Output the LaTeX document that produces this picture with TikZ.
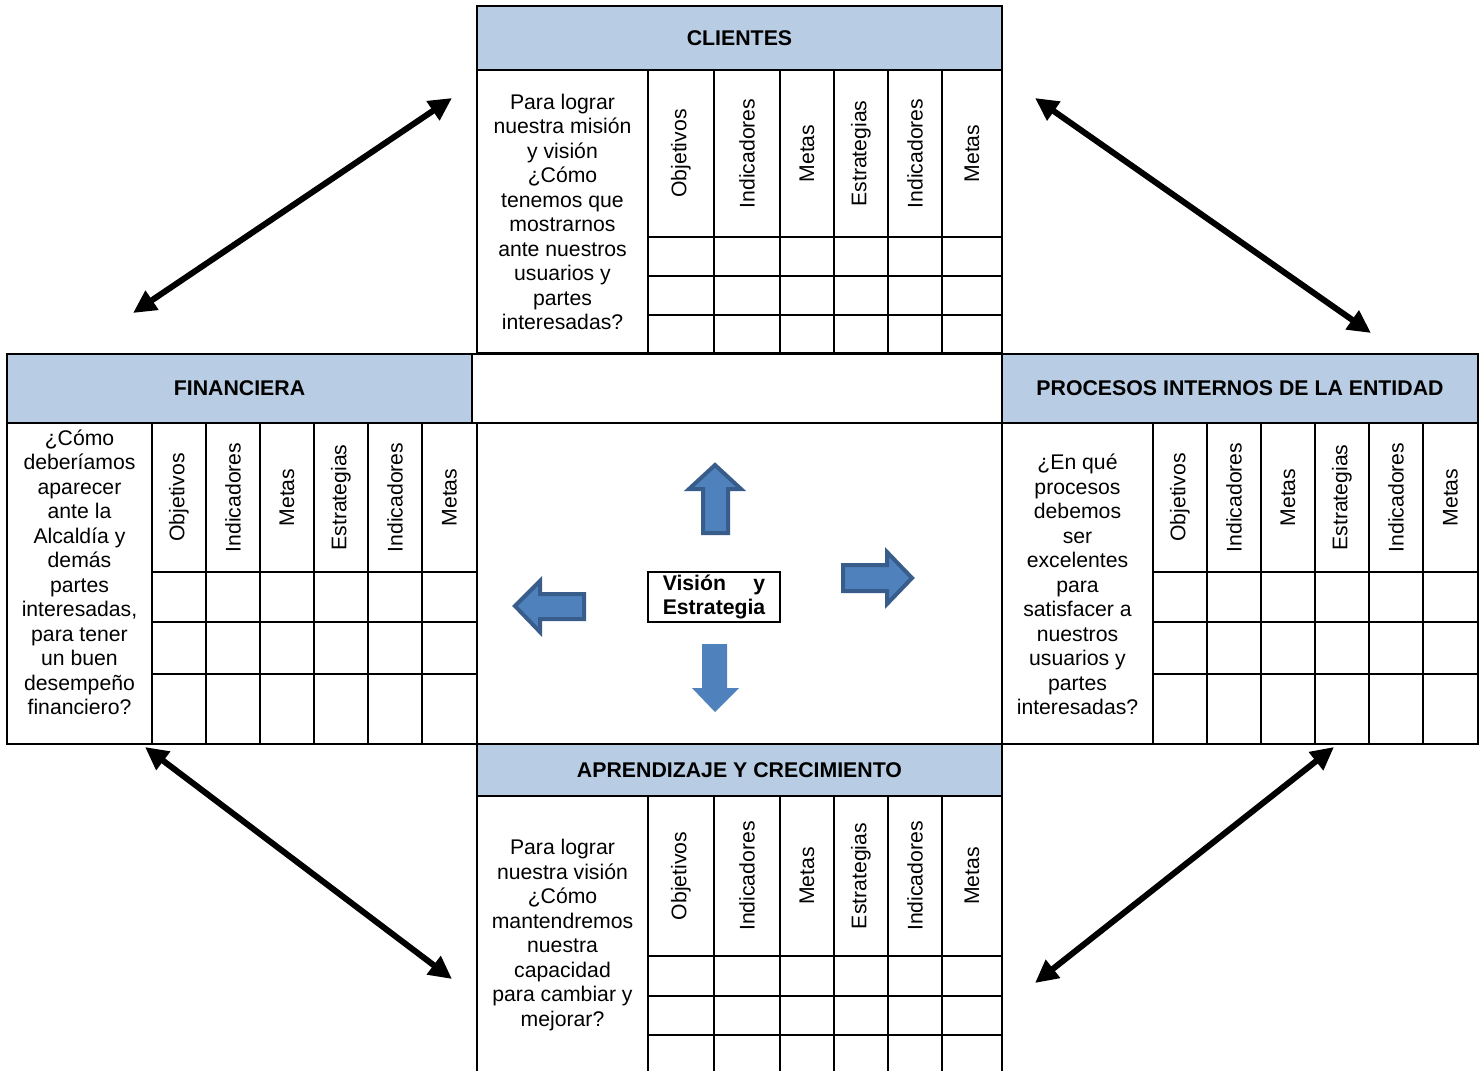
\documentclass[tikz,border=0pt]{standalone}
\usepackage{fontspec}
\usepackage{calc}
\setmainfont{Liberation Sans}
\usetikzlibrary{arrows.meta}
\definecolor{hdrblue}{HTML}{B8CCE4}
\definecolor{arrfill}{HTML}{4F81BD}
\definecolor{arrline}{HTML}{385D8A}
\begin{document}
\begin{tikzpicture}[x=1pt,y=-1pt,
  tbl/.style={line width=2.2pt,draw=black},
  hdr/.style={fill=hdrblue},
  hdrtext/.style={font=\fontsize{21.3}{24.5}\selectfont\bfseries,inner sep=0pt},
  qtext/.style={font=\fontsize{21.2}{24.5}\selectfont,align=center,inner sep=0pt},
  rotlabel/.style={font=\fontsize{21.2}{24.5}\selectfont,rotate=90,inner sep=0pt},
  vbox/.style={draw=black,line width=2pt,fill=white,font=\fontsize{21.2}{24.5}\selectfont\bfseries,align=left,inner xsep=15pt,inner ysep=2.5pt,minimum height=50pt},
  blockarrow/.style={fill=arrfill,draw=arrline,line width=4pt,line join=miter},
  dblarrow/.style={line width=6pt,{Triangle[length=23pt,width=22pt]}-{Triangle[length=23pt,width=22pt]}}
]
\useasboundingbox (0,0) rectangle (1484,1071);
\fill[white] (0,0) rectangle (1484,1071);

% ---------------- CLIENTES ----------------
\fill[hdr] (477,6) rectangle (1002,70);
\draw[tbl] (477,6) rectangle (1002,353);
\draw[tbl] (477,70) -- (1002,70);
\foreach \x in {648,714,780,834,888,942} \draw[tbl] (\x,70) -- (\x,353);
\foreach \y in {237,276,315} \draw[tbl] (648,\y) -- (1002,\y);
\node[hdrtext] (Chead) at (739.5,38) {CLIENTES};
\node[qtext] (Cq) at (562.5,212) {Para lograr\\nuestra misión\\y visión\\¿Cómo\\tenemos que\\mostrarnos\\ante nuestros\\usuarios y\\partes\\interesadas?};
\foreach \xa/\xb/\t [count=\i] in {648/714/Objetivos,714/780/Indicadores,780/834/Metas,834/888/Estrategias,888/942/Indicadores,942/1002/Metas}
  \node[rotlabel] (C\i) at ({(\xa+\xb)/2},153.5) {\t};

% ---------------- middle band ----------------
\fill[hdr] (7,354) rectangle (472,423);
\fill[hdr] (1002,354) rectangle (1478,423);
\draw[tbl] (7,354) rectangle (472,423);
\draw[tbl] (472,354) rectangle (1002,423);
\draw[tbl] (1002,354) rectangle (1478,423);
\node[hdrtext] (Fhead) at (239.5,388.5) {FINANCIERA};
\node[hdrtext] (Phead) at (1240,388.5) {PROCESOS INTERNOS DE LA ENTIDAD};

% ---------------- FINANCIERA body ----------------
\draw[tbl] (7,423) rectangle (477,744);
\foreach \x in {152,206,260,314,368,422} \draw[tbl] (\x,423) -- (\x,744);
\foreach \y in {572,622,674} \draw[tbl] (152,\y) -- (477,\y);
\node[qtext] (Fq) at (79.5,572.5) {¿Cómo\\deberíamos\\aparecer\\ante la\\Alcaldía y\\demás\\partes\\interesadas,\\para tener\\un buen\\desempeño\\financiero?};
\foreach \xa/\xb/\t [count=\i] in {152/206/Objetivos,206/260/Indicadores,260/314/Metas,314/368/Estrategias,368/422/Indicadores,422/477/Metas}
  \node[rotlabel] (F\i) at ({(\xa+\xb)/2},497.5) {\t};

% ---------------- PROCESOS body ----------------
\draw[tbl] (1002,423) rectangle (1478,744);
\foreach \x in {1153,1207,1261,1315,1369,1423} \draw[tbl] (\x,423) -- (\x,744);
\foreach \y in {572,622,674} \draw[tbl] (1153,\y) -- (1478,\y);
\node[qtext] (Pq) at (1077.5,584.5) {¿En qué\\procesos\\debemos\\ser\\excelentes\\para\\satisfacer a\\nuestros\\usuarios y\\partes\\interesadas?};
\foreach \xa/\xb/\t [count=\i] in {1153/1207/Objetivos,1207/1261/Indicadores,1261/1315/Metas,1315/1369/Estrategias,1369/1423/Indicadores,1423/1478/Metas}
  \node[rotlabel] (P\i) at ({(\xa+\xb)/2},497.5) {\t};

% ---------------- center ----------------
\draw[tbl] (477,423) rectangle (1002,744);
\node[vbox] (vision) at (714,597) {\makebox[\widthof{Estrategia}][s]{Visión y}\\Estrategia};
% up arrow
\draw[blockarrow] (715,465) -- (741,489) -- (728,489) -- (728,533) -- (703,533) -- (703,489) -- (689,489) -- cycle;
% right arrow
\draw[blockarrow] (912,578) -- (887,604) -- (887,591) -- (843,591) -- (843,565) -- (887,565) -- (887,552) -- cycle;
% left arrow
\draw[blockarrow] (515,606) -- (540,581) -- (540,594) -- (584,594) -- (584,619) -- (540,619) -- (540,632) -- cycle;
% down arrow
\fill[arrfill] (702,644) -- (727,644) -- (727,688) -- (739,688) -- (715,712) -- (692,688) -- (702,688) -- cycle;

% ---------------- APRENDIZAJE ----------------
\fill[hdr] (477,744) rectangle (1002,796);
\draw[tbl] (477,1072) -- (477,744) -- (1002,744) -- (1002,1072);
\draw[tbl] (477,796) -- (1002,796);
\foreach \x in {648,714,780,834,888,942} \draw[tbl] (\x,796) -- (\x,1072);
\foreach \y in {956,996,1035} \draw[tbl] (648,\y) -- (1002,\y);
\node[hdrtext] (Ahead) at (739.5,770) {APRENDIZAJE Y CRECIMIENTO};
\node[qtext] (Aq) at (562.5,935) {Para lograr\\nuestra visión\\¿Cómo\\mantendremos\\nuestra\\capacidad\\para cambiar y\\mejorar?};
\foreach \xa/\xb/\t [count=\i] in {648/714/Objetivos,714/780/Indicadores,780/834/Metas,834/888/Estrategias,888/942/Indicadores,942/1002/Metas}
  \node[rotlabel] (A\i) at ({(\xa+\xb)/2},876) {\t};

% ---------------- diagonal double arrows ----------------
\coordinate (tlA) at (133,313);
\coordinate (tlB) at (452,98);
\coordinate (trA) at (1035,98);
\coordinate (trB) at (1371,333);
\coordinate (blA) at (145,747);
\coordinate (blB) at (452,979);
\coordinate (brA) at (1035,983);
\coordinate (brB) at (1334,747);
\draw[dblarrow] (tlA) -- (tlB);
\draw[dblarrow] (trA) -- (trB);
\draw[dblarrow] (blA) -- (blB);
\draw[dblarrow] (brA) -- (brB);
\end{tikzpicture}
\end{document}
